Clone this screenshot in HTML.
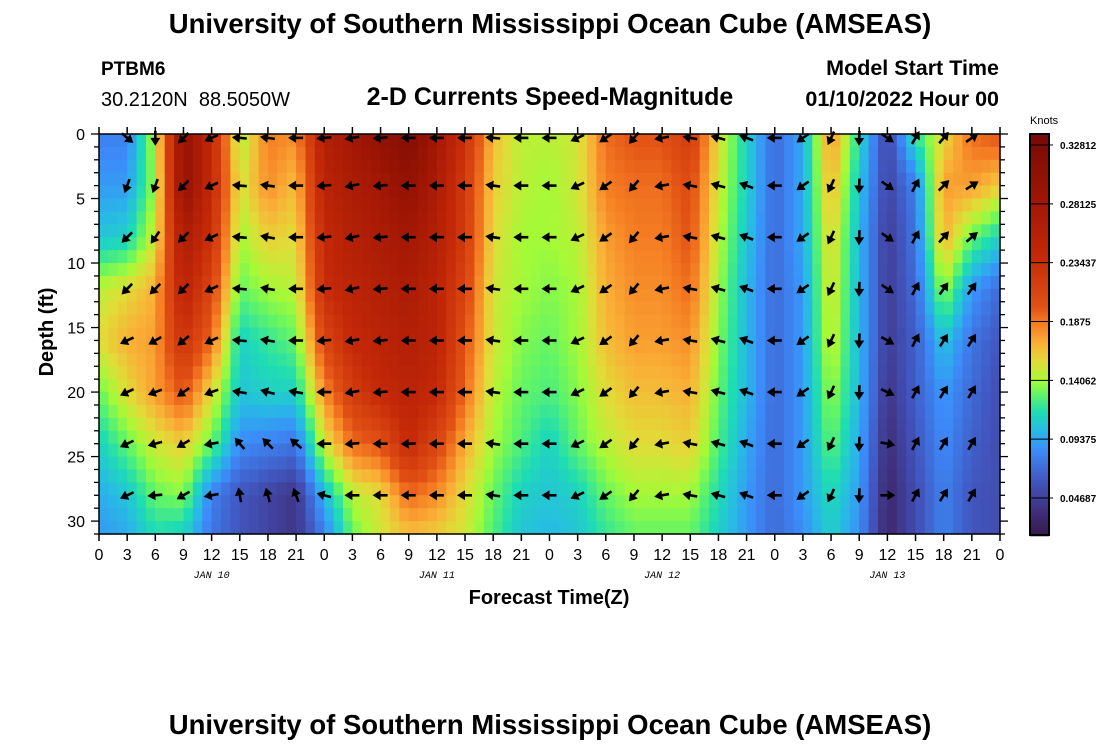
<!DOCTYPE html>
<html><head><meta charset="utf-8"><style>
body{margin:0;background:#fff;}
svg{display:block;font-family:"Liberation Sans",sans-serif;}
</style></head><body>
<svg id="chart" width="1100" height="750" viewBox="0 0 1100 750">
<text x="550" y="33" text-anchor="middle" font-size="27.5" font-weight="bold">University of Southern Mississippi Ocean Cube (AMSEAS)</text>
<text x="101" y="75" font-size="19" font-weight="bold">PTBM6</text>
<text x="101" y="106" font-size="20" xml:space="preserve" style="white-space:pre">30.2120N  88.5050W</text>
<text x="550" y="105" text-anchor="middle" font-size="25" font-weight="bold">2-D Currents Speed-Magnitude</text>
<text x="999" y="75" text-anchor="end" font-size="21.5" font-weight="bold">Model Start Time</text>
<text x="999" y="106" text-anchor="end" font-size="21.5" font-weight="bold">01/10/2022 Hour 00</text>
<text x="550" y="734" text-anchor="middle" font-size="27.5" font-weight="bold">University of Southern Mississippi Ocean Cube (AMSEAS)</text>
<text x="549" y="604" text-anchor="middle" font-size="20" font-weight="bold">Forecast Time(Z)</text>
<text transform="translate(53,332) rotate(-90)" text-anchor="middle" font-size="20" font-weight="bold">Depth (ft)</text>
<text x="1030" y="124" font-size="11">Knots</text>
<g id="heat"></g><g id="arrows"></g><g id="axes"></g><g id="cbar"></g>
</svg>
<script>
// data
const times=[0,3,6,9,12,15,18,21,24,27,30,33,36,39,42,45,48,51,54,57,60,63,66,69,72,75,78,81,84,87,90,93,96];
const depths=[0,4,8,12,16,20,24,28,31];
const speed=[
[.08,.09,.105,.145,.155,.13,.11,.095,.09],
[.08,.09,.11,.155,.17,.155,.13,.105,.095],
[.145,.14,.15,.17,.175,.175,.15,.13,.115],
[.30,.30,.27,.25,.23,.20,.16,.135,.11],
[.24,.24,.23,.21,.19,.155,.13,.08,.075],
[.14,.15,.14,.13,.11,.105,.085,.06,.06],
[.185,.18,.16,.14,.12,.11,.08,.05,.05],
[.18,.165,.155,.145,.13,.11,.075,.04,.04],
[.26,.25,.24,.235,.21,.18,.15,.10,.08],
[.28,.27,.26,.25,.24,.22,.19,.145,.13],
[.30,.28,.27,.26,.25,.24,.20,.155,.15],
[.32,.30,.28,.27,.26,.25,.24,.19,.165],
[.28,.27,.26,.25,.25,.24,.21,.18,.16],
[.23,.22,.22,.21,.20,.19,.17,.155,.15],
[.165,.16,.155,.15,.15,.145,.14,.13,.125],
[.145,.145,.14,.14,.135,.13,.125,.11,.105],
[.145,.14,.14,.135,.13,.125,.11,.105,.10],
[.15,.15,.145,.14,.14,.135,.13,.11,.105],
[.19,.185,.175,.17,.165,.155,.145,.13,.12],
[.20,.19,.185,.18,.175,.165,.155,.14,.13],
[.20,.19,.185,.18,.175,.165,.155,.14,.13],
[.22,.205,.20,.19,.18,.17,.16,.14,.13],
[.155,.15,.145,.14,.135,.13,.125,.115,.11],
[.11,.11,.105,.10,.10,.10,.095,.09,.09],
[.07,.07,.07,.07,.07,.07,.07,.07,.07],
[.095,.095,.095,.09,.09,.09,.09,.09,.085],
[.18,.17,.16,.155,.15,.14,.13,.115,.11],
[.115,.105,.10,.10,.10,.10,.095,.09,.085],
[.05,.05,.045,.045,.045,.04,.035,.03,.03],
[.12,.08,.075,.07,.065,.065,.06,.055,.055],
[.155,.175,.17,.14,.105,.09,.085,.08,.08],
[.19,.175,.13,.09,.075,.07,.065,.06,.06],
[.20,.16,.11,.07,.06,.055,.055,.055,.055]];
const arrowTimes=[3,6,9,12,15,18,21,24,27,30,33,36,39,42,45,48,51,54,57,60,63,66,69,72,75,78,81,84,87,90,93];
const arrowDepths=[0.3,4,8,12,16,20,24,28];
// direction in degrees (0=east, 90=north)
const arrowDir=[
[-40,250,225,225,205,205,205,205],
[270,250,235,225,210,200,195,185],
[225,225,225,225,220,215,210,210],
[205,205,205,205,205,200,190,190],
[175,175,175,175,175,170,130,100],
[172,172,170,170,170,165,135,105],
[180,180,180,180,180,170,140,110],
[185,185,185,185,185,180,180,165],
[190,192,192,192,190,190,185,180],
[185,185,185,185,185,185,180,180],
[180,180,180,180,180,180,182,180],
[180,180,180,180,180,180,180,180],
[180,180,180,180,180,180,180,180],
[175,172,172,172,172,172,172,172],
[180,180,180,180,180,180,180,180],
[180,180,180,180,180,180,180,180],
[205,205,205,205,205,205,205,205],
[215,215,215,215,215,215,215,215],
[230,230,230,230,230,230,230,230],
[190,190,190,190,190,190,190,190],
[170,170,170,170,170,170,170,170],
[165,165,165,165,165,165,165,165],
[160,160,160,160,160,160,160,160],
[180,180,180,180,180,180,180,180],
[215,215,215,215,215,215,215,215],
[245,245,245,245,245,245,245,245],
[268,268,268,268,268,268,268,268],
[-35,-35,-35,-35,-30,-25,-10,0],
[60,62,62,62,62,62,62,62],
[50,45,48,55,58,58,58,58],
[35,32,40,55,58,60,60,60]];
const cbTicks=[0.32812,0.28125,0.23437,0.1875,0.14062,0.09375,0.04687];
const xTickLabels=["0","3","6","9","12","15","18","21"];
const dayLabels=["JAN 10","JAN 11","JAN 12","JAN 13"];
const yTicks=[0,5,10,15,20,25,30];

const NS="http://www.w3.org/2000/svg";
const X0=99,X1=1000,Y0=134,Y1=534,TMAX=96,DMAX=31;
const xS=t=>X0+(X1-X0)*t/TMAX, yS=d=>Y0+(Y1-Y0)*d/DMAX;
const CB0=134,CB1=535,VTOP=0.3369,VBOT=0.0174;
const cbY=v=>CB0+(VTOP-v)/(VTOP-VBOT)*(CB1-CB0);
const stops=[[0.010,[48,18,59]],[0.035,[63,45,120]],[0.06,[66,85,190]],[0.085,[60,140,250]],[0.10,[40,185,230]],[0.115,[30,220,180]],[0.13,[100,245,100]],[0.14,[165,250,55]],[0.155,[225,220,55]],[0.17,[250,175,55]],[0.185,[245,125,35]],[0.20,[225,80,20]],[0.24,[195,40,8]],[0.29,[155,20,4]],[0.34,[115,10,5]]];
function col(v){if(v<=stops[0][0])return stops[0][1];for(let i=1;i<stops.length;i++){if(v<=stops[i][0]){const a=stops[i-1],b=stops[i],f=(v-a[0])/(b[0]-a[0]);return a[1].map((c,k)=>Math.round(c+(b[1][k]-c)*f));}}return stops[stops.length-1][1];}
const rgb=c=>`rgb(${c[0]},${c[1]},${c[2]})`;
function mk(tag,attrs,parent){const e=document.createElementNS(NS,tag);for(const k in attrs)e.setAttribute(k,attrs[k]);parent.appendChild(e);return e;}
function interp(arr,x){let i=0;while(i<arr.length-2&&x>arr[i+1])i++;return [i,(x-arr[i])/(arr[i+1]-arr[i])];}
function val(t,d){const [i,fx]=interp(times,t),[j,fy]=interp(depths,d);const a=speed[i][j],b=speed[i+1][j],c=speed[i][j+1],e=speed[i+1][j+1];return (a*(1-fx)+b*fx)*(1-fy)+(c*(1-fx)+e*fx)*fy;}
const heat=document.getElementById('heat');
for(let h=0;h<TMAX;h++){for(let d=0;d<DMAX;d++){
 const v=val(h+0.5,d+0.5);
 const r=mk('rect',{x:xS(h).toFixed(2),y:yS(d).toFixed(2),width:(xS(h+1)-xS(h)+0.6).toFixed(2),height:(yS(d+1)-yS(d)+0.6).toFixed(2),fill:rgb(col(v))},heat);
 
 
}}
const ag=document.getElementById('arrows');
arrowTimes.forEach((t,i)=>{arrowDepths.forEach((d,j)=>{
 const g=mk('g',{transform:`translate(${xS(t).toFixed(1)},${yS(d).toFixed(1)}) rotate(${-arrowDir[i][j]})`},ag);
 
 
 mk('line',{x1:-7,y1:0,x2:2,y2:0,stroke:'#000','stroke-width':2.6},g);
 mk('polygon',{points:'8,0 0,-5 0,5',fill:'#000'},g);
});});
const ax=document.getElementById('axes');
const frame=mk('rect',{x:X0,y:Y0,width:X1-X0,height:Y1-Y0,fill:'none',stroke:'#000','stroke-width':1.5},ax);


for(let t=0;t<=TMAX;t+=3){
 mk('line',{x1:xS(t),x2:xS(t),y1:Y1,y2:Y1+7,stroke:'#000','stroke-width':1.5},ax);
 mk('line',{x1:xS(t),x2:xS(t),y1:Y0,y2:Y0-7,stroke:'#000','stroke-width':1.5},ax);
 const lb=mk('text',{x:xS(t),y:560,'text-anchor':'middle','font-size':16},ax);
 lb.textContent=xTickLabels[(t/3)%8];
 
 
}
dayLabels.forEach((s,i)=>{const tx=mk('text',{x:xS(12+24*i),y:578,'text-anchor':'middle','font-size':10,'font-style':'italic','font-family':'Liberation Mono,monospace'},ax);tx.textContent=s;
 
 });
for(let d=0;d<=DMAX;d++){const L=d%5===0?8:5;
 mk('line',{x1:X0,x2:X0-L,y1:yS(d),y2:yS(d),stroke:'#000','stroke-width':1.3},ax);
 mk('line',{x1:X1,x2:X1+L,y1:yS(d),y2:yS(d),stroke:'#000','stroke-width':1.3},ax);}
yTicks.forEach(d=>{const tx=mk('text',{x:85,y:yS(d)+6,'text-anchor':'end','font-size':16},ax);tx.textContent=d;
 
 });
const cb=document.getElementById('cbar');
for(let y=CB0;y<CB1;y+=2){const v=VTOP-(y+1-CB0)/(CB1-CB0)*(VTOP-VBOT);mk('rect',{x:1030,y:y,width:19,height:2.3,fill:rgb(col(v))},cb);}
const cbf=mk('rect',{x:1030,y:CB0,width:19,height:CB1-CB0,fill:'none',stroke:'#000','stroke-width':2},cb);


cbTicks.forEach(v=>{mk('line',{x1:1030,x2:1053,y1:cbY(v),y2:cbY(v),stroke:'#000','stroke-width':1},cb);
 const tx=mk('text',{x:1060,y:cbY(v)+4,'font-size':10,'font-weight':'bold'},cb);tx.textContent=v;
 
 });
</script>
</body></html>
